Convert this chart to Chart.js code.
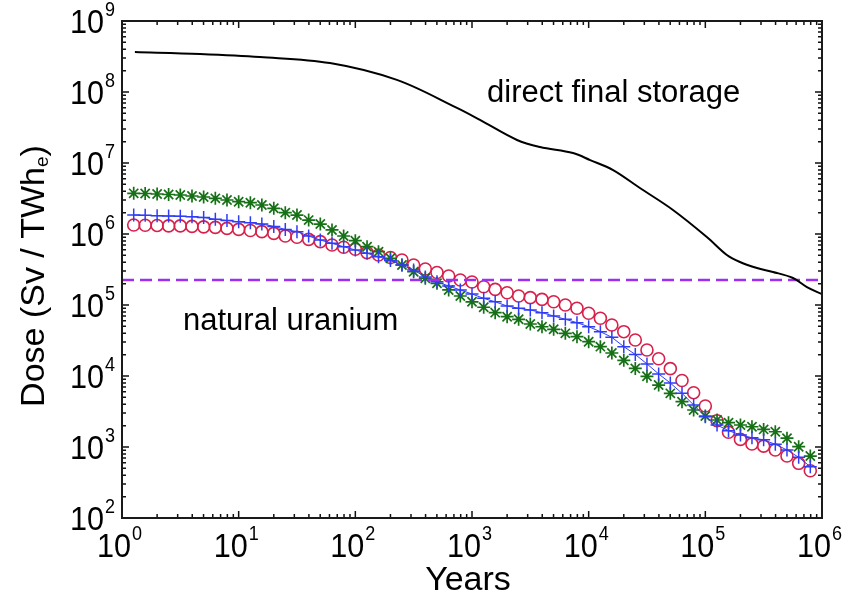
<!DOCTYPE html>
<html><head><meta charset="utf-8">
<script src="https://cdn.jsdelivr.net/npm/chart.js@4/dist/chart.umd.min.js"></script>
<style>html,body{margin:0;padding:0;background:#fff;}#wrap{width:842px;height:596px;}</style>
</head><body><div id="wrap"><canvas id="c" width="842" height="596"></canvas></div>
<script>
// ---- data ----
const markerYears = [1.26,1.58,2.0,2.51,3.16,3.98,5.01,6.31,7.94,10,
  12.6,15.8,20,25.1,31.6,39.8,50.1,63.1,79.4,100,
  126,158,200,251,316,398,501,631,794,1000,
  1260,1580,2000,2510,3160,3980,5010,6310,7940,10000,
  12600,15800,20000,25100,31600,39800,50100,63100,79400,100000,
  126000,158000,200000,251000,316000,398000,501000,631000,794000];
const circleDose = [1.34e6,1.33e6,1.32e6,1.30e6,1.30e6,1.28e6,1.26e6,1.24e6,1.20e6,1.16e6,
  1.12e6,1.08e6,1.02e6,9.37e5,8.99e5,8.41e5,7.80e5,7.00e5,6.50e5,6.09e5,
  5.46e5,5.06e5,4.67e5,4.30e5,3.66e5,3.21e5,2.87e5,2.56e5,2.25e5,2.11e5,
  1.81e5,1.66e5,1.49e5,1.34e5,1.27e5,1.20e5,1.11e5,1.00e5,8.99e4,7.64e4,
  6.50e4,5.22e4,4.21e4,3.21e4,2.32e4,1.75e4,1.27e4,8.65e3,5.82e3,3.78e3,
  2.34e3,1.61e3,1.28e3,1.10e3,1.03e3,9.08e2,7.46e2,5.89e2,4.63e2];
const plusDose = [1.85e6,1.83e6,1.81e6,1.79e6,1.78e6,1.75e6,1.71e6,1.61e6,1.55e6,1.49e6,
  1.44e6,1.38e6,1.28e6,1.16e6,1.08e6,9.37e5,8.22e5,7.39e5,6.62e5,5.96e5,
  5.35e5,4.79e5,4.24e5,3.66e5,3.11e5,2.48e5,2.13e5,1.85e5,1.63e5,1.43e5,
  1.24e5,1.11e5,9.68e4,8.99e4,8.51e4,7.80e4,7.00e4,6.29e4,5.64e4,4.94e4,
  4.21e4,3.51e4,2.59e4,2.01e4,1.48e4,1.07e4,7.96e3,5.70e3,3.91e3,2.67e3,
  2.04e3,1.70e3,1.48e3,1.35e3,1.26e3,1.09e3,9.08e2,7.16e2,5.28e2];
const starDose = [3.74e6,3.72e6,3.66e6,3.60e6,3.54e6,3.43e6,3.32e6,3.18e6,3.01e6,2.85e6,
  2.76e6,2.56e6,2.30e6,2.00e6,1.85e6,1.57e6,1.38e6,1.14e6,9.37e5,8.05e5,
  6.62e5,5.64e5,4.55e5,3.66e5,2.94e5,2.38e5,2.02e5,1.63e5,1.34e5,1.11e5,
  9.29e4,7.80e4,6.84e4,6.29e4,5.40e4,4.94e4,4.55e4,3.99e4,3.58e4,3.04e4,
  2.59e4,2.11e4,1.66e4,1.28e4,9.9e3,7.46e3,5.70e3,4.35e3,3.32e3,2.73e3,
  2.40e3,2.20e3,2.04e3,1.93e3,1.77e3,1.64e3,1.33e3,1.01e3,7.46e2];
const directYears = [1.29,4.66,15.2,60.6,227,743,1170,2430,3830,7340,10300,16200,27500,52800,103000,153000,198000,277000,380000,564000,743000,1000000];
const directDose = [3.66e8,3.43e8,3.11e8,2.56e8,1.48e8,5.96e7,4.04e7,2.11e7,1.68e7,1.38e7,1.10e7,7.96e6,4.44e6,2.18e6,9.08e5,5.06e5,4.03e5,3.32e5,2.92e5,2.40e5,1.79e5,1.42e5];
const uraniumYears = [1, 1000000];
const uraniumDose = [2.25e5, 2.25e5];
const xTickExponents = [0,1,2,3,4,5,6];
const yTickExponents = [2,3,4,5,6,7,8,9];
const xTitle = 'Years';
const yTitleMain = 'Dose (Sv / TWh';
const yTitleSub = 'e';
const yTitleEnd = ')';
const labelDirect = 'direct final storage';
const labelUranium = 'natural uranium';

const pts = (xs, ys) => xs.map((v, i) => ({x: v, y: ys[i]}));
const FONT = "'Liberation Sans', Arial, sans-serif";

const deco = {
  id: 'deco',
  afterDatasetsDraw(chart) {
    const {ctx, chartArea: a, scales: {x, y}} = chart;
    ctx.save();
    ctx.strokeStyle = '#111'; ctx.lineWidth = 1.5;
    ctx.beginPath();
    for (let e = 0; e < 6; e++) for (let m = 1; m <= 9; m++) {
      const px = x.getPixelForValue(m * Math.pow(10, e));
      const len = m === 1 ? 7 : 4;
      ctx.moveTo(px, a.bottom); ctx.lineTo(px, a.bottom - len);
      ctx.moveTo(px, a.top); ctx.lineTo(px, a.top + len);
    }
    for (let e = 2; e < 9; e++) for (let m = 1; m <= 9; m++) {
      const py = y.getPixelForValue(m * Math.pow(10, e));
      const len = m === 1 ? 7 : 4;
      ctx.moveTo(a.left, py); ctx.lineTo(a.left + len, py);
      ctx.moveTo(a.right, py); ctx.lineTo(a.right - len, py);
    }
    ctx.stroke();
    ctx.lineWidth = 2; ctx.strokeStyle = '#1a1a1a';
    ctx.strokeRect(a.left, a.top, a.right - a.left, a.bottom - a.top);
    ctx.fillStyle = '#000';
    ctx.textBaseline = 'alphabetic'; ctx.textAlign = 'left';
    const SX = 0.9;
    const big = '34px ' + FONT, small = '20px ' + FONT;
    const measure = (e) => { ctx.font = big; const w1 = ctx.measureText('10').width * SX; ctx.font = small; const w2 = ctx.measureText(String(e)).width * SX; return [w1, w2]; };
    const draw = (e, left, base) => {
      const [w1] = measure(e);
      ctx.save(); ctx.translate(left, base); ctx.scale(SX, 1);
      ctx.font = big; ctx.fillText('10', 0, 0);
      ctx.font = small; ctx.fillText(String(e), (w1 + 1) / SX, -17);
      ctx.restore();
    };
    xTickExponents.forEach(e => {
      const px = x.getPixelForValue(Math.pow(10, e));
      draw(e, px - 25, 557);
    });
    yTickExponents.forEach(e => {
      const py = y.getPixelForValue(Math.pow(10, e));
      const [w1, w2] = measure(e);
      draw(e, a.left - 7 - (w1 + w2 + 1), py + 12);
    });
    ctx.font = '34px ' + FONT; ctx.textAlign = 'center';
    ctx.fillText(xTitle, 468, 590);
    ctx.save();
    ctx.translate(44, 276); ctx.rotate(-Math.PI / 2);
    ctx.font = '34px ' + FONT; const m1 = ctx.measureText(yTitleMain).width;
    const m3 = ctx.measureText(yTitleEnd).width;
    ctx.font = '19px ' + FONT; const m2 = ctx.measureText(yTitleSub).width;
    const tot = m1 + m2 + m3; let sx = -tot / 2;
    ctx.textAlign = 'left';
    ctx.font = '34px ' + FONT; ctx.fillText(yTitleMain, sx, 0); sx += m1;
    ctx.font = '19px ' + FONT; ctx.fillText(yTitleSub, sx, 4); sx += m2;
    ctx.font = '34px ' + FONT; ctx.fillText(yTitleEnd, sx, 0);
    ctx.restore();
    ctx.font = '31px ' + FONT; ctx.textAlign = 'left';
    ctx.fillText(labelDirect, 487, 102);
    ctx.fillText(labelUranium, 183, 330);
    ctx.restore();
  }
};

new Chart(document.getElementById('c'), {
  type: 'scatter',
  data: {
    datasets: [
      {label: 'direct final storage', data: pts(directYears, directDose), showLine: true, borderColor: '#000', borderWidth: 2, pointRadius: 0, tension: 0.35},
      {label: 'natural uranium', data: pts(uraniumYears, uraniumDose), showLine: true, borderColor: '#9b30f0', borderWidth: 2.5, borderDash: [12, 6], pointRadius: 0},
      {label: 'plus', data: pts(markerYears, plusDose), showLine: true, borderColor: '#2f3cf5', backgroundColor: 'transparent', borderWidth: 1, pointStyle: 'cross', pointRadius: 6.5, pointBorderWidth: 1.5},
      {label: 'star', data: pts(markerYears, starDose), showLine: false, borderColor: '#167016', backgroundColor: 'transparent', pointStyle: 'star', pointRadius: 6.5, pointBorderWidth: 1.7},
      {label: 'circle', data: pts(markerYears, circleDose), showLine: false, borderColor: '#d8204a', backgroundColor: 'transparent', pointStyle: 'circle', pointRadius: 6, pointBorderWidth: 1.6}
    ]
  },
  options: {
    responsive: false, animation: false, devicePixelRatio: 1,
    layout: {padding: {left: 122, right: 20, top: 21, bottom: 78}},
    plugins: {legend: {display: false}, tooltip: {enabled: false}},
    scales: {
      x: {type: 'logarithmic', min: 1, max: 1e6, ticks: {display: false}, grid: {display: false, drawTicks: false}, border: {display: false}, title: {display: false}},
      y: {type: 'logarithmic', min: 100, max: 1e9, ticks: {display: false}, grid: {display: false, drawTicks: false}, border: {display: false}, title: {display: false}}
    }
  },
  plugins: [deco]
});
</script>
</body></html>
